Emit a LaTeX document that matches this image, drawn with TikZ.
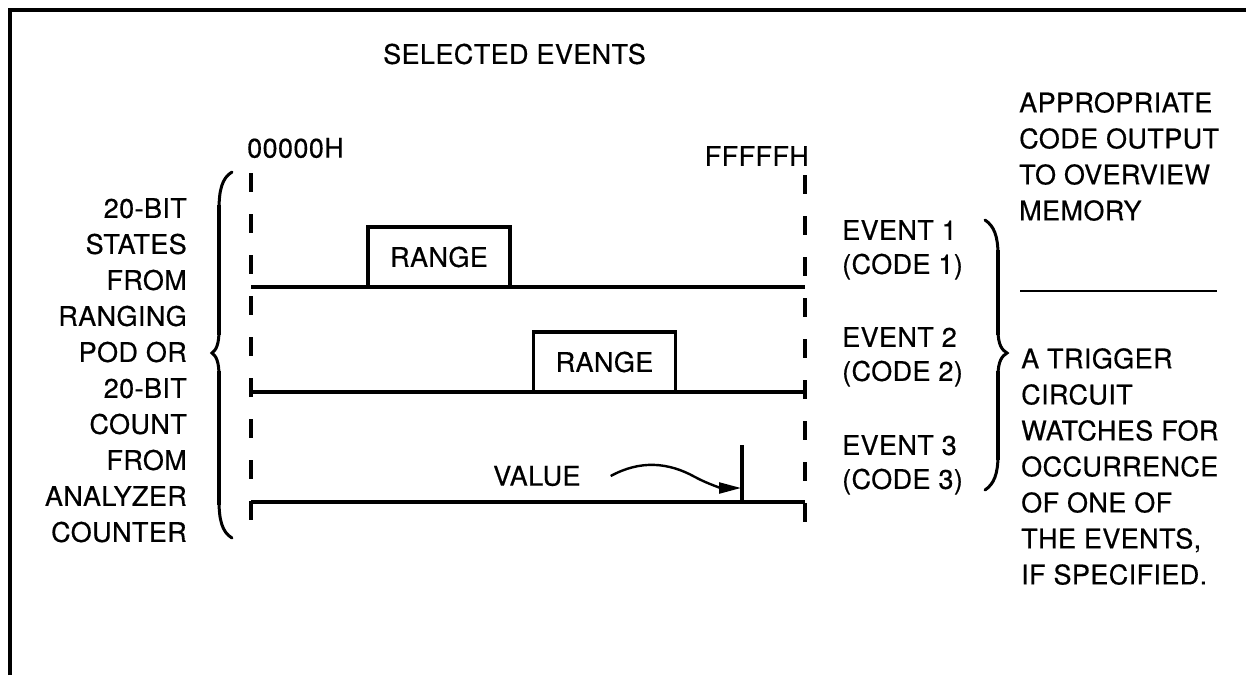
\documentclass[tikz,border=0pt]{standalone}
\usepackage{fontspec}
\setmainfont{TeX Gyre Heros}[LetterSpace=1.5,FakeBold=0.5]
\usetikzlibrary{arrows.meta}
\begin{document}
\begin{tikzpicture}[x=1pt,y=-1pt,
  lbl/.style={inner sep=0pt, font=\fontsize{27}{36}\selectfont},
  evlbl/.style={inner sep=0pt, font=\fontsize{27}{34}\selectfont, align=left, anchor=north west},
  frameline/.style={line width=3.5pt},
  axisline/.style={line width=3.4pt},
  dashline/.style={line width=3.2pt, dash pattern=on 19pt off 22pt},
  rangebox/.style={draw, line width=3.4pt, minimum width=142pt, minimum height=60pt, inner sep=0pt, font=\fontsize{27}{36}\selectfont},
  bracepath/.style={line width=3pt, line cap=round},
  bracebody/.style={line width=4.6pt},
  thinline/.style={line width=1.6pt}]
\useasboundingbox (0,0) rectangle (1246,675);
% frame
\coordinate (fbl) at (10,675);
\coordinate (ftl) at (10,10);
\coordinate (ftr) at (1246,10);
\draw[frameline] (fbl) -- (ftl) -- (ftr);
% titles
\node[lbl, anchor=west] (sel) at (383,54) {SELECTED EVENTS};
\node[lbl, anchor=west] (lo) at (247,148) {00000H};
\node[lbl, anchor=east] (hi) at (809,156) {FFFFFH};
% dashed limits
\coordinate (l1) at (251,173); \coordinate (l2) at (251,528);
\coordinate (r1) at (805,175); \coordinate (r2) at (805,528);
\draw[dashline] (l1) -- (l2);
\draw[dashline] (r1) -- (r2);
% baselines
\coordinate (a1) at (251,287); \coordinate (b1) at (805,287);
\coordinate (a2) at (251,392); \coordinate (b2) at (805,392);
\coordinate (a3) at (251,502); \coordinate (b3) at (805,502);
\draw[axisline] (a1) -- (b1);
\draw[axisline] (a2) -- (b2);
\draw[axisline] (a3) -- (b3);
% range boxes
\node[rangebox] (range1) at (439,257) {RANGE};
\node[rangebox] (range2) at (604.5,362) {RANGE};
% value marker
\coordinate (mtop) at (742,445);
\coordinate (mbot) at (742,502);
\draw[axisline] (mtop) -- (mbot);
\node[lbl, anchor=west] (value) at (493,476) {VALUE};
\coordinate (vtip) at (741,488);
\draw[line width=2.4pt, -{Triangle[length=22pt,width=11pt]}]
  ([xshift=30pt]value.east) .. controls (640,460) and (668,462) .. (695,477)
  .. controls (710,485) and (722,488) .. (vtip);
% left text
\node[lbl, anchor=north east, align=right] (src) at (187,198)
  {20-BIT\\STATES\\FROM\\RANGING\\POD OR\\20-BIT\\COUNT\\FROM\\ANALYZER\\COUNTER};
% left brace
\draw[bracepath] (232,172) .. controls (222,178) and (219,190) .. (219,210) -- (219,330)
  .. controls (219,345) and (216,350) .. (212,353)
  .. controls (216,356) and (219,361) .. (219,376) -- (219,500)
  .. controls (219,520) and (222,532) .. (232,538);
\draw[bracebody] (219,205) -- (219,335) (219,371) -- (219,505);
% event labels
\node[evlbl] (ev1) at (842,220) {EVENT 1\\(CODE 1)};
\node[evlbl] (ev2) at (842,327) {EVENT 2\\(CODE 2)};
\node[evlbl] (ev3) at (842,435) {EVENT 3\\(CODE 3)};
% right brace
\draw[bracepath] (985,220) .. controls (994,226) and (998,236) .. (998,255) -- (998,330)
  .. controls (998,345) and (1002,350) .. (1007,353)
  .. controls (1002,356) and (998,361) .. (998,376) -- (998,455)
  .. controls (998,474) and (994,484) .. (985,490);
\draw[bracebody] (998,250) -- (998,335) (998,371) -- (998,460);
% right texts
\node[lbl, anchor=north west, align=left] (out) at (1019,92)
  {APPROPRIATE\\CODE OUTPUT\\TO OVERVIEW\\MEMORY};
\coordinate (s1) at (1020,291); \coordinate (s2) at (1217,291);
\draw[thinline] (s1) -- (s2);
\node[lbl, anchor=north west, align=left] (trig) at (1021,348)
  {A TRIGGER\\CIRCUIT\\WATCHES FOR\\OCCURRENCE\\OF ONE OF\\THE EVENTS,\\IF SPECIFIED.};
\end{tikzpicture}
\end{document}
